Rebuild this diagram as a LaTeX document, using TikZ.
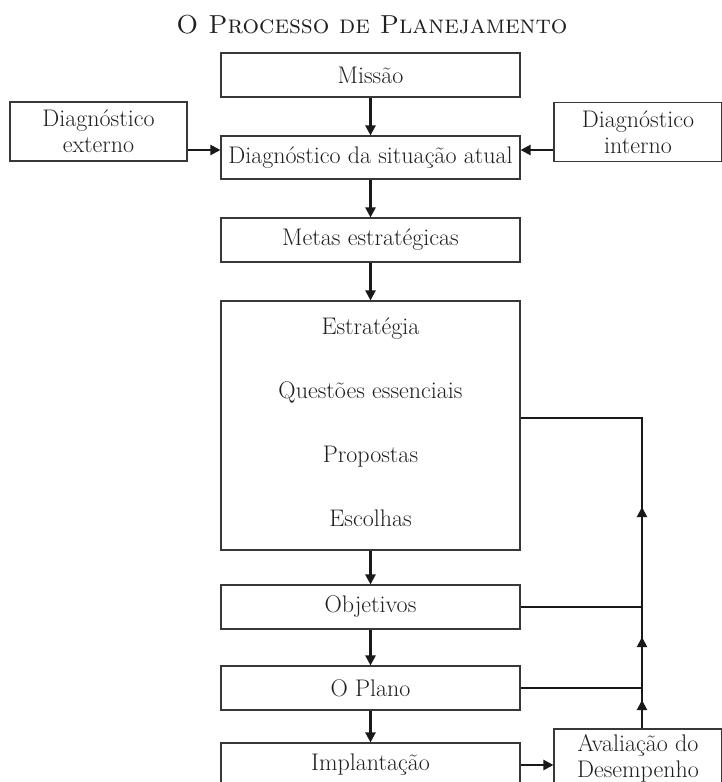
\documentclass[tikz,border=0pt]{standalone}
\usetikzlibrary{arrows.meta}
\begin{document}
\begin{tikzpicture}[x=1pt,y=-1pt,
  lbl/.style={font=\fontsize{24}{26}\selectfont, text=black!88},
  box/.style={lbl, draw=black!78, line width=1.1pt, rectangle, inner sep=0pt,
    align=center, minimum width=299pt, minimum height=44pt},
  side/.style={box, minimum width=168pt, minimum height=59pt},
  flow/.style={draw=black!90, line width=2.2pt, -{Triangle[length=10pt,width=10pt]}},
  fb/.style={draw=black!90, line width=2pt},
  fbtip/.style={fb, -{Triangle[length=10pt,width=10pt]}}
]
\useasboundingbox (0,0) rectangle (722,782);
\clip (0,0) rectangle (722,782);

% title
\node[anchor=base, font=\fontsize{26}{30}\selectfont\scshape, text=black!88]
  (title) at (372,33) {O Processo de Planejamento};

% main column
\node[box] (missao) at (370.5,75) {Missão};
\node[box, minimum height=43pt] (sit) at (370.5,157.5) {Diagnóstico da situação atual};
\node[box] (metas) at (370.5,240) {Metas estratégicas};
\node[box, minimum height=249pt] (strat) at (370.5,425.5) {};
\node[lbl, anchor=base] (s1) at (370.5,334) {Estratégia};
\node[lbl, anchor=base] (s2) at (370.5,398) {Questões essenciais};
\node[lbl, anchor=base] (s3) at (370.5,462) {Propostas};
\node[lbl, anchor=base] (s4) at (370.5,526) {Escolhas};
\node[box] (obj) at (370.5,607) {Objetivos};
\node[box] (plano) at (370.5,688) {O Plano};
\node[box] (impl) at (370.5,765) {Implantação};

% side boxes
\node[side, minimum width=177pt] (ext) at (98.5,131.5) {Diagnóstico\\externo};
\node[side] (int) at (638,132) {Diagnóstico\\interno};
\node[side] (aval) at (638,758.5) {Avaliação do\\Desempenho};

% helper coordinates
\coordinate (inrow) at (0,150);
\coordinate (fbx) at (642,0);
\coordinate (srow) at (0,418);
\coordinate (t1a) at (642,712);
\coordinate (t1b) at (642,700);
\coordinate (t2a) at (642,649);
\coordinate (t2b) at (642,637);
\coordinate (t3a) at (642,519);
\coordinate (t3b) at (642,507);

% downward flow
\draw[flow] (missao.south) -- (sit.north);
\draw[flow] (sit.south) -- (metas.north);
\draw[flow] (metas.south) -- (strat.north);
\draw[flow] (strat.south) -- (obj.north);
\draw[flow] (obj.south) -- (plano.north);
\draw[flow] (plano.south) -- (impl.north);

% inputs to the diagnosis
\draw[flow] (ext.east |- inrow) -- (sit.west |- inrow);
\draw[flow] (int.west |- inrow) -- (sit.east |- inrow);

% implementation to evaluation
\draw[flow] (impl.east) -- (aval.west |- impl.east);

% feedback loop
\draw[fb] (aval.north -| fbx) -- (fbx |- srow) -- (strat.east |- srow);
\draw[fb] (obj.east) -- (obj.east -| fbx);
\draw[fb] (plano.east) -- (plano.east -| fbx);
\draw[fbtip] (t1a) -- (t1b);
\draw[fbtip] (t2a) -- (t2b);
\draw[fbtip] (t3a) -- (t3b);
\end{tikzpicture}
\end{document}
